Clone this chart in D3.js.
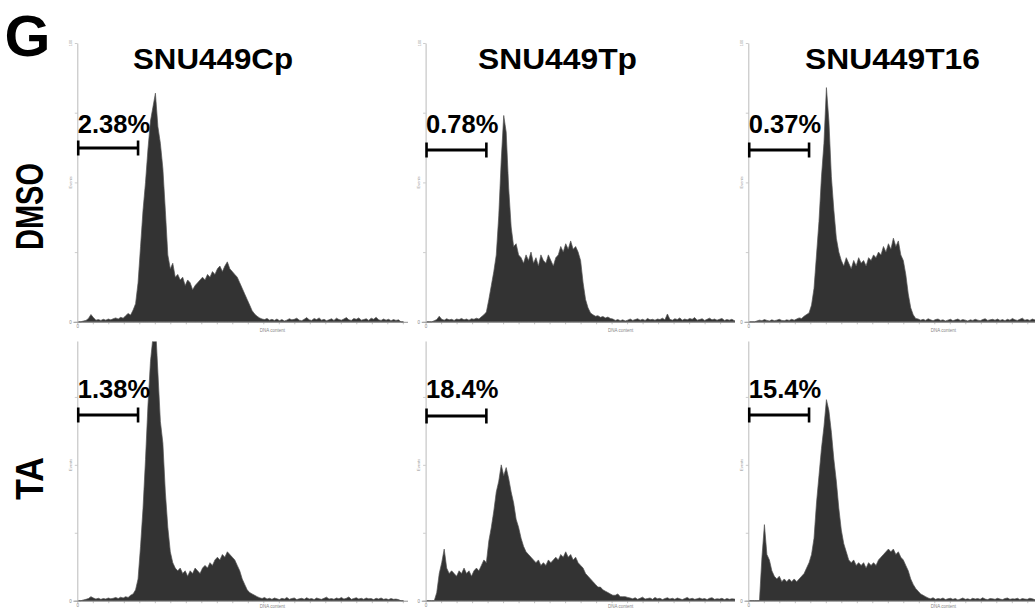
<!DOCTYPE html>
<html><head><meta charset="utf-8">
<script src="https://cdn.jsdelivr.net/npm/d3@7"></script>
<style>body{margin:0;background:#fff}svg{display:block}</style>
</head><body>
<svg id="c" width="1035" height="610"></svg>
<script>
// ---------- data ----------
const panelLetter = "G";
const cellLines = ["SNU449Cp", "SNU449Tp", "SNU449T16"];
const treatments = ["DMSO", "TA"];
const subG1Labels = [["2.38%", "0.78%", "0.37%"], ["1.38%", "18.4%", "15.4%"]];
const gateChannels = [3, 196];
const binWidth = 8;               // channels per histogram bin
const xTickStep = 50;             // channel tick spacing
const yTicks = [0, 25, 50, 75, 100];
const xAxisLabel = "DNA content";
const yAxisLabel = "Events";

// events per bin (% of axis max), bins of 8 channels from channel 0
const dmsoCp = [0,0,0.3,0.5,1.2,2.6,1.5,0.6,0.8,0.5,0.9,0.6,1.0,0.7,1.1,1.4,1.0,1.6,1.3,2.2,
  3.0,2.4,4.2,6.5,14,27,40,50,62,72,77,82,70,64,55,40,24,19,21,16,
  17,15,16,13,15,14,11.5,13,14,15,16,15,17,16,18,17,19,20,18,20,
  21.5,19,18,17,16,14,12,10,8,6,4,2.8,2,1.4,1.0,0.8,1.2,0.6,0.9,0.5,
  1.0,0.4,0.8,0.3,0.6,1.1,0.7,0.9,1.3,0.6,0.4,0.9,1.5,0.7,0.5,1.2,0.8,1.4,0.6,0.9,
  0.4,0.7,1.1,0.5,1.3,0.8,0.6,1.0,1.5,0.7,0.5,1.2,0.9,1.4,0.6,0.8,1.1,0.5,1.3,0.9,
  1.6,0.7,0.5,1.0,0.6,0.9,0.4,0.8,0.5,0.7,0,0];
const dmsoTp = [0,0,0,0.4,0.8,2.0,0.9,0.6,1.1,0.7,0.9,0.5,1.0,0.8,1.2,0.7,1.0,0.6,1.1,0.9,
  1.3,1.0,1.8,2.5,3.5,8,13,18,24,38,58,74,68,48,34,27,28,24,23,21,
  24,22,25,21,23,20,24,22,21,24,22,20,23,24,27,25,28,26,29,26,
  27,25,22,14,8,5,3.2,2.5,2.0,2.2,1.6,1.9,1.4,1.7,1.2,1.0,0.5,0.8,0.4,0.7,
  0.3,0.6,1.0,0.5,0.8,1.1,0.6,0.9,0.5,1.2,0.7,0.9,0.6,1.0,0.8,1.3,0.7,2.8,0.9,0.6,
  1.1,0.8,1.4,0.6,1.0,0.7,1.2,0.9,1.5,0.6,0.8,1.1,0.5,0.9,1.3,0.7,1.0,0.6,0.9,1.2,
  0.5,0.8,0.6,0.9,0.4,0.7,0.5,0.8,0.4,0.6,0.3,0.5];
const dmsoT16 = [0,0,0,0.3,0.6,0.4,0.8,0.5,0.3,0.7,0.4,0.6,0.9,0.5,0.4,0.7,0.5,0.9,0.6,1.0,
  1.4,1.2,2.0,2.6,3.2,6,12,24,36,52,64,84,72,52,40,30,25,22,20,23,
  21,19,22,20,23,21,22,20,23,22,24,23,25,24,27,25,28,26,30,27,
  29,24,22,17,10,5,2.5,1.2,1.0,0.6,0.9,0.5,1.1,0.7,0.4,0.8,1.0,0.5,0.7,0.3,
  0.6,0.9,0.4,0.7,1.0,0.5,0.8,0.6,0.3,0.7,0.5,0.9,0.6,0.4,0.8,1.1,0.5,0.7,0.9,0.6,
  1.0,0.5,0.8,0.4,0.9,0.6,1.2,0.7,0.5,0.9,1.3,0.6,0.8,0.5,1.0,0.7,0.4,0.8,0.6,0.9,
  0.5,0.7,0.4,0.8,0.6,0.5,0.7,0.4,0.6,0.5,0.3,0.4];
const taCp = [0,0,0.3,0.5,0.8,1.5,1.0,0.6,0.9,0.5,0.8,0.6,1.0,0.7,0.9,1.2,0.8,1.3,1.0,1.5,
  1.2,2.0,2.5,4,8,20,34,52,72,88,97,102,84,66,58,40,27,18,14,12,
  11,12,10,11,9,11,10,12,11,10,12,13,12,14,13,15,16,15,17,16,
  18,17,16,15,13,11,8,6,4,3,2.5,2,1.5,1.1,0.8,1.2,0.6,0.9,0.5,1.0,
  0.7,0.4,0.9,0.6,1.2,0.5,0.8,1.0,0.4,0.7,0.9,0.5,1.1,0.6,0.8,0.4,1.0,0.7,0.5,0.9,
  1.3,0.6,0.8,0.5,1.0,0.7,1.2,0.6,0.9,1.4,0.5,0.8,1.1,0.6,0.9,0.5,1.0,0.7,0.8,0.4,
  0.9,0.6,1.0,0.5,0.7,0.4,0.8,0.5,0.6,0.4,0,0];
const taTp = [0,0,0,0,3,10,14,19,12,10,11,10,9,11,10,12,10,11,9,11,
  12,11,13,15,14,22,27,33,40,44,50,46,49,45,40,36,30,27,23,20,
  18,17,16,15,14,15,13,14,13,15,14,15,16,15,17,16,18,16,17,15,
  16,14,13,12,10,9,8,7,6,5,5,4,3.5,3,2.5,2,2,2.5,1.5,1.5,
  1.5,1.2,1.0,0.7,1.1,0.5,0.9,1.3,0.6,0.8,1.0,0.5,1.2,0.7,0.9,0.4,0.8,1.1,0.6,0.9,
  0.5,1.0,0.7,0.4,0.8,1.2,0.6,0.9,0.5,0.7,1.0,0.6,0.8,0.4,0.9,1.1,0.5,0.7,0.6,0.9,
  0.4,0.8,0.5,0.7,0.6,0.4,0.7,0.5,0.6,0.3,0.5,0.4];
const taT16 = [0,0,0,0,0,16,28,17,15,11,9,8,9,7,8,7,8,7,8,7,
  8,9,10,12,14,17,23,36,46,56,64,74,70,62,52,44,34,26,21,18,
  15,14,15,13,14,13,14,12,14,13,14,13,15,16,17,18,19,18,19,17,
  18,16,15,13,11,8,6,4.5,3.5,2.5,2,1.5,1.0,0.7,1.1,0.5,0.8,0.6,1.0,0.4,
  0.7,0.9,0.5,0.8,0.3,0.6,1.0,0.5,0.7,0.4,0.9,0.6,0.8,0.5,1.1,0.6,0.4,0.8,0.7,0.5,
  0.9,0.6,0.4,0.8,1.0,0.5,0.7,0.6,0.9,0.4,0.8,0.6,0.5,0.9,0.7,0.4,0.8,0.5,0.6,0.7,
  0.4,0.6,0.5,0.7,0.4,0.5,0.6,0.4,0.5,0.3,0.4,0.3];
const histograms = [[dmsoCp, dmsoTp, dmsoT16], [taCp, taTp, taT16]];

// ---------- layout ----------
const colX0 = [77.3, 425.6, 748.3];
const colX1 = [408, 735, 1040];
const pxPerChannel = 0.31;
const rowBase = [321.8, 600.7];
const rowTop = [43, 329];
const rowClipTop = [0, 341.5];
const xLabelDy = [10.5, 7.3];
const titleX = [213, 557.5, 892.5];
const titleLen = [160, 159, 175];
const barY = [[148, 150, 150], [415, 416, 415]];
const labelY = [133, 398];
const rowLabelY = [206.5, 478.5];
const rowLabelLen = [87, 43];
const FONT = "'Liberation Sans', Arial, Helvetica, sans-serif";

const svg = d3.select("#c");
const defs = svg.append("defs");

svg.append("text").attr("x", 4.5).attr("y", 55.5)
  .attr("font-family", FONT).attr("font-weight", "bold").attr("font-size", 57)
  .attr("textLength", 46).attr("lengthAdjust", "spacingAndGlyphs")
  .text(panelLetter);

cellLines.forEach((name, ci) => {
  svg.append("text").attr("x", titleX[ci]).attr("y", 68.5)
    .attr("text-anchor", "middle")
    .attr("font-family", FONT).attr("font-weight", "bold").attr("font-size", 30)
    .attr("textLength", titleLen[ci]).attr("lengthAdjust", "spacingAndGlyphs")
    .text(name);
});

treatments.forEach((t, r) => {
  svg.append("text")
    .attr("transform", `translate(42.5,${rowLabelY[r]}) rotate(-90)`)
    .attr("text-anchor", "middle")
    .attr("font-family", FONT).attr("font-weight", "bold").attr("font-size", 39)
    .attr("textLength", rowLabelLen[r]).attr("lengthAdjust", "spacingAndGlyphs")
    .text(t);
});

const area = d3.area().curve(d3.curveLinear);

treatments.forEach((t, r) => {
  cellLines.forEach((c, ci) => {
    const x0 = colX0[ci];
    const x = d3.scaleLinear().domain([0, 1024]).range([x0, x0 + 1024 * pxPerChannel]);
    const y = d3.scaleLinear().domain([0, 100]).range([rowBase[r], rowTop[r]]);
    const id = `clip${r}${ci}`;
    defs.append("clipPath").attr("id", id).append("rect")
      .attr("x", x0 - 14).attr("y", rowClipTop[r])
      .attr("width", colX1[ci] - x0 + 14)
      .attr("height", rowBase[r] + 12 - rowClipTop[r]);
    const g = svg.append("g").attr("clip-path", `url(#${id})`);

    // x axis
    const chEnd = x.invert(colX1[ci]);
    const xa = x.copy().domain([-14, chEnd]).range([x(-14), x(chEnd)]);
    const xAxis = d3.axisBottom(xa)
      .tickValues(d3.range(0, chEnd, xTickStep))
      .tickSize(2.5).tickSizeOuter(0)
      .tickFormat(v => v === 0 ? "0" : "");
    const gx = g.append("g").attr("transform", `translate(0,${rowBase[r]})`).call(xAxis);
    gx.select(".domain").attr("stroke", "#777").attr("stroke-width", 0.8);
    gx.selectAll(".tick line").attr("stroke", "#999").attr("stroke-width", 0.6);
    gx.selectAll(".tick text").attr("font-size", 4.5).attr("fill", "#888").attr("dy", "0.2em")
      .attr("font-family", FONT);

    // y axis
    const yAxis = d3.axisLeft(y).tickValues(yTicks).tickSize(2.5).tickSizeOuter(0)
      .tickFormat(v => v === 0 ? "0" : "");
    const gy = g.append("g").attr("transform", `translate(${x0},0)`).call(yAxis);
    gy.select(".domain").attr("stroke", "#aaa").attr("stroke-width", 0.8);
    gy.selectAll(".tick line").attr("stroke", "#aaa").attr("stroke-width", 0.6);
    gy.selectAll(".tick text").attr("font-size", 4.5).attr("fill", "#888").attr("font-family", FONT);
    g.append("text")
      .attr("transform", `translate(${x0 - 5},${y(100)}) rotate(-90)`)
      .attr("text-anchor", "middle").attr("font-size", 4).attr("fill", "#999")
      .attr("font-family", FONT).text("100");
    g.append("text")
      .attr("transform", `translate(${x0 - 5.5},${y(50)}) rotate(-90)`)
      .attr("text-anchor", "middle").attr("font-size", 4).attr("fill", "#999")
      .attr("font-family", FONT).text(yAxisLabel);

    // histogram
    const data = histograms[r][ci];
    area.x((d, i) => x(i * binWidth + binWidth / 2)).y0(y(0)).y1(d => y(d));
    g.append("path").datum(data).attr("d", area)
      .attr("fill", "#333").attr("stroke", "#555").attr("stroke-width", 0.7)
      .attr("stroke-linejoin", "miter");

    // x axis label
    svg.append("text").attr("x", x0 + 195).attr("y", rowBase[r] + xLabelDy[r])
      .attr("text-anchor", "middle").attr("font-size", 4.5).attr("fill", "#888")
      .attr("font-family", FONT).text(xAxisLabel);

    // sub-G1 gate bar and label
    const by = barY[r][ci];
    const gb = svg.append("g").attr("stroke", "#000").attr("stroke-width", 3.2);
    gb.append("line").attr("x1", x(gateChannels[0])).attr("x2", x(gateChannels[1]))
      .attr("y1", by).attr("y2", by);
    gateChannels.forEach(ch => {
      gb.append("line").attr("x1", x(ch)).attr("x2", x(ch))
        .attr("y1", by - 7.5).attr("y2", by + 7.5).attr("stroke-width", 2.6);
    });
    svg.append("text").attr("x", x0 + 0.5).attr("y", labelY[r])
      .attr("font-family", FONT).attr("font-weight", "bold").attr("font-size", 25.5)
      .text(subG1Labels[r][ci]);
  });
});
</script>
</body></html>
